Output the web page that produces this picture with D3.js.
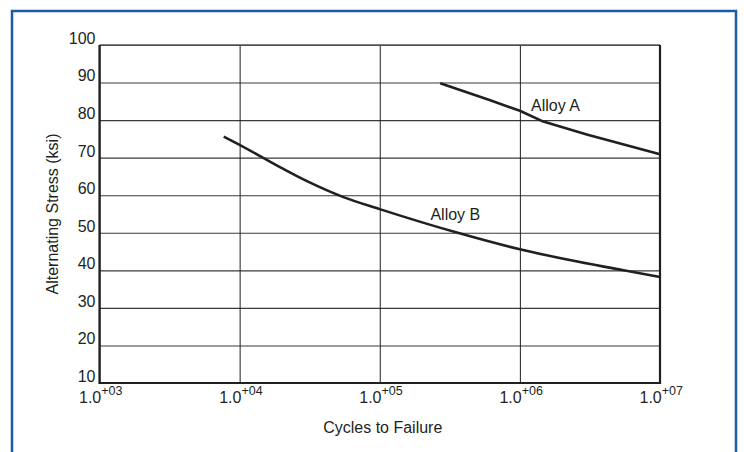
<!DOCTYPE html>
<html>
<head>
<meta charset="utf-8">
<script src="https://cdn.jsdelivr.net/npm/d3@7"></script>
<style>
  body { margin: 0; background: #fff; }
  text { font-family: "Liberation Sans", Arial, sans-serif; fill: #231f20; }
</style>
</head>
<body>
<div id="chart"></div>
<script>
// S-N curves, two alloys
var cycleTicks = [1e3, 1e4, 1e5, 1e6, 1e7];
var cycleExp = ["+03", "+04", "+05", "+06", "+07"];
var stressTicks = [10, 20, 30, 40, 50, 60, 70, 80, 90, 100];

var alloyA_cycles = [2.7e5, 6e5, 1e6, 1.47e6, 3e6, 1e7];
var alloyA_stress = [89.8, 85.4, 82.5, 79.6, 76.2, 70.9];

var alloyB_cycles = [7.7e3, 1e4, 2e4, 3e4, 5.5e4, 1e5, 3.6e5, 1e6, 5.5e6, 1e7];
var alloyB_stress = [75.6, 73.4, 67.2, 63.8, 59.5, 56.3, 50.0, 45.6, 40.0, 38.2];

var seriesLabels = [
  {name: "Alloy A", cycles: 1.2e6, stress: 82.4},
  {name: "Alloy B", cycles: 2.3e5, stress: 53.4}
];

var W = 744, H = 452;
var margin = {top: 45, right: 84, bottom: 69, left: 99.5};
var width = W - margin.left - margin.right,
    height = H - margin.top - margin.bottom;

var svg = d3.select("#chart").append("svg")
    .attr("width", W)
    .attr("height", H);

// blue frame around the figure (open at bottom)
svg.append("path")
  .attr("d", "M12,460 L12,11 L736,11 L736,460")
  .attr("fill", "none")
  .attr("stroke", "#1b5ca8")
  .attr("stroke-width", 2.5);

var g = svg.append("g")
  .attr("transform", "translate(" + margin.left + "," + margin.top + ")");

var x = d3.scaleLog()
  .domain([1e3, 1e7])
  .range([0, width]);

var y = d3.scaleLinear()
  .domain([10, 100])
  .range([height, 0]);

// horizontal grid + y labels
var yAxis = g.append("g")
  .call(d3.axisLeft(y).tickValues(stressTicks).tickSize(-width).tickPadding(4));
yAxis.select(".domain").remove();
yAxis.selectAll("line").attr("stroke", "#3a3a3a").attr("stroke-width", 1.1);
yAxis.selectAll("text")
  .attr("dy", "-0.1em")
  .attr("x", -4)
  .style("font-size", "16px");

// vertical grid + x labels
var xAxis = g.append("g")
  .attr("transform", "translate(0," + height + ")")
  .call(d3.axisBottom(x).tickValues(cycleTicks).tickSize(-height).tickFormat(""));
xAxis.select(".domain").remove();
xAxis.selectAll("line").attr("stroke", "#231f20").attr("stroke-width", 1);
xAxis.selectAll(".tick").each(function(d, i) {
  var t = d3.select(this).select("text")
    .attr("y", 20)
    .attr("dy", null)
    .attr("text-anchor", "start");
  t.append("tspan").attr("x", -21).style("font-size", "16px").text("1.0");
  t.append("tspan").attr("dy", -8).style("font-size", "12.5px").text(cycleExp[i]);
});

// plot frame
g.append("line").attr("x1", 0).attr("x2", width).attr("y1", 0).attr("y2", 0)
  .attr("stroke", "#555").attr("stroke-width", 1.3);
g.append("path")
  .attr("d", "M0,0 L0," + height + " L" + width + "," + height + " L" + width + ",0")
  .attr("fill", "none")
  .attr("stroke", "#231f20")
  .attr("stroke-width", 2.2);

// curves
var lineA = d3.line()
  .x(function(d) { return x(d[0]); })
  .y(function(d) { return y(d[1]); })
  .curve(d3.curveLinear);

var lineB = d3.line()
  .x(function(d) { return x(d[0]); })
  .y(function(d) { return y(d[1]); })
  .curve(d3.curveMonotoneX);

g.append("path")
  .datum(d3.zip(alloyA_cycles, alloyA_stress))
  .attr("d", lineA)
  .attr("fill", "none")
  .attr("stroke", "#231f20")
  .attr("stroke-width", 2.6)
  .attr("stroke-linejoin", "round");

g.append("path")
  .datum(d3.zip(alloyB_cycles, alloyB_stress))
  .attr("d", lineB)
  .attr("fill", "none")
  .attr("stroke", "#231f20")
  .attr("stroke-width", 2.6);

g.selectAll(".label")
  .data(seriesLabels)
  .enter().append("text")
    .attr("class", "label")
    .attr("x", function(d) { return x(d.cycles); })
    .attr("y", function(d) { return y(d.stress); })
    .style("font-size", "16px")
    .text(function(d) { return d.name; });

// axis titles
svg.append("text")
  .attr("x", margin.left + width / 2 + 3)
  .attr("y", 433)
  .attr("text-anchor", "middle")
  .style("font-size", "16px")
  .text("Cycles to Failure");

svg.append("text")
  .attr("transform", "translate(58," + (margin.top + height / 2) + ") rotate(-90)")
  .attr("text-anchor", "middle")
  .style("font-size", "16px")
  .text("Alternating Stress (ksi)");
</script>
</body>
</html>
